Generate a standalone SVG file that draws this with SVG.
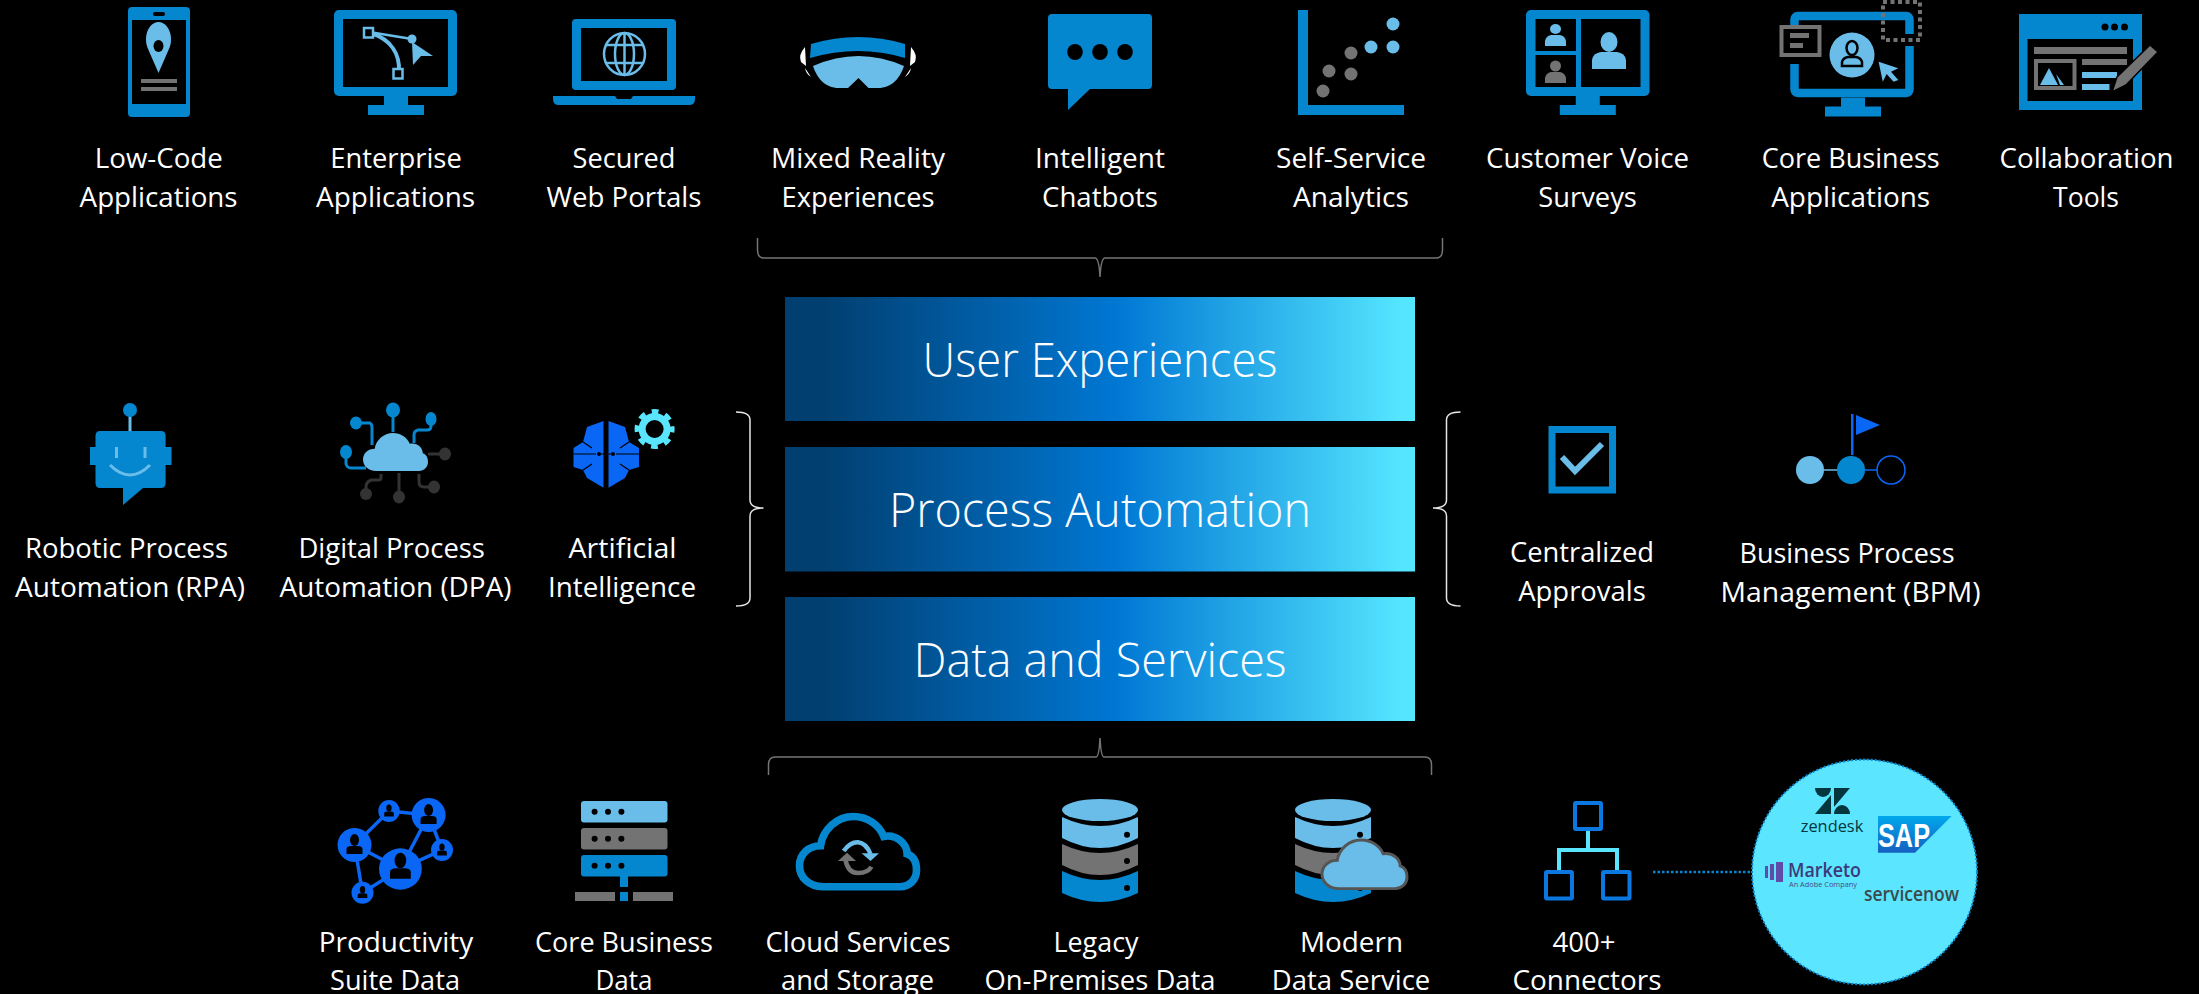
<svg xmlns="http://www.w3.org/2000/svg" width="2199" height="994" viewBox="0 0 2199 994">
<style>
text{font-family:"Open Sans","Noto Sans","Liberation Sans",sans-serif;fill:#fff;text-anchor:middle}
.l{font-size:27px}
.h{font-size:47px;font-weight:300}
.b{fill:#0587cf}.c{fill:#6abce9}.g{fill:#737373}.k{fill:#000}.v{fill:#0a66f5}.y{fill:#5ae5ff}
.brace{fill:none;stroke:#747474;stroke-width:1.5}
.brw{fill:none;stroke:#e6e6e6;stroke-width:1.5}
.blk{fill:url(#grad)}
</style>
<defs>
<linearGradient id="grad" x1="0" x2="1" y1="0" y2="0"><stop offset="0" stop-color="#013f70"/><stop offset=".06" stop-color="#013f70"/><stop offset=".53" stop-color="#0078d4"/><stop offset=".98" stop-color="#55e6ff"/></linearGradient>
<linearGradient id="sap" x1="0" x2="0" y1="0" y2="1"><stop offset="0" stop-color="#00a8ec"/><stop offset="1" stop-color="#1560c0"/></linearGradient>
<path id="cloud" d="M20 60C8 60 0 52 0 42C0 32 8 25 18 25C20 11 32 0 46 0C58 0 68 7 72 17C84 15 92 24 92 32C98 34 100 40 100 46C100 54 94 60 86 60Z"/>
<g id="db">
<ellipse cx="0" cy="810" rx="38" ry="11" class="c"/>
<path class="c" d="M-38 817Q0 835 38 817V838Q0 858-38 838Z"/>
<path class="g" d="M-38 844Q0 862 38 844V865Q0 885-38 865Z"/>
<path class="b" d="M-38 871Q0 889 38 871V893Q0 911-38 893Z"/>
<circle cx="27" cy="834.700" r="3" class="k"/><circle cx="27" cy="861" r="3" class="k"/><circle cx="27" cy="888" r="3" class="k"/>
</g>
<g id="netp"><ellipse cx="0" cy="-5" rx="4.500" ry="6" class="k"/><path d="M-8 9V4Q-8 1-3 1H3Q8 1 8 4V9Z" class="k"/></g>
<g id="stand"><rect x="-12" y="0" width="24" height="10"/><rect x="-28" y="9" width="56" height="10"/></g>
</defs>
<rect width="2199" height="994" fill="#000"/>

<g id="connectors">
<path class="brace" d="M757.500 238V250Q757.500 258 764 258H1095Q1099 258 1100 277Q1101 258 1105 258H1436Q1442.500 258 1442.500 250V238"/>
<path class="brace" d="M768.500 775V765Q768.500 757 775 757H1096Q1099 757 1100 738Q1101 757 1104 757H1425Q1431.500 757 1431.500 765V775"/>
<path class="brw" d="M736 412Q750 412 750 420V500Q750 508 763.500 508Q750 508 750 516V598Q750 606 736 606"/>
<path class="brw" d="M1460.500 412Q1446.500 412 1446.500 420V500Q1446.500 508 1433 508Q1446.500 508 1446.500 516V598Q1446.500 606 1460.500 606"/>
<path d="M1653 872H1752" fill="none" stroke="#0587cf" stroke-width="2.500" stroke-dasharray="2.500 2"/>
</g>

<g id="block-user"><rect class="blk" x="785" y="297" width="630" height="124"/><text class="h" x="1100" y="377.300" textLength="355" lengthAdjust="spacingAndGlyphs">User Experiences</text></g>
<g id="block-process"><rect class="blk" x="785" y="447" width="630" height="124.500"/><text class="h" x="1100" y="527.300" textLength="422" lengthAdjust="spacingAndGlyphs">Process Automation</text></g>
<g id="block-data"><rect class="blk" x="785" y="597" width="630" height="124"/><text class="h" x="1100" y="677" textLength="373" lengthAdjust="spacingAndGlyphs">Data and Services</text></g>

<g id="low-code">
<rect class="b" x="128" y="7" width="62" height="110" rx="4"/>
<rect class="k" x="132" y="20" width="54" height="84"/>
<rect class="k" x="153" y="12" width="12" height="4" rx="2"/>
<path class="c" d="M158.500 73L148.500 50A12.500 17.500 0 1 1 168.500 50Z"/>
<ellipse class="k" cx="158.500" cy="46" rx="5" ry="6"/>
<rect class="g" x="141" y="79" width="36" height="4"/><rect class="g" x="141" y="87" width="36" height="4"/>
<text class="l" x="158.800" y="168" textLength="128" lengthAdjust="spacingAndGlyphs">Low-Code</text>
<text class="l" x="158.600" y="206.500" textLength="158" lengthAdjust="spacingAndGlyphs">Applications</text>
</g>

<g id="enterprise">
<rect class="b" x="334" y="10" width="123" height="86" rx="5"/>
<rect class="k" x="343" y="19" width="105" height="68"/>
<use href="#stand" x="396" y="96" class="b"/>
<path d="M369 32L412 39" stroke="#6abce9" stroke-width="2.500" fill="none"/>
<path d="M371 33C392 40 400 55 399 72" stroke="#6abce9" stroke-width="4" fill="none"/>
<rect x="364" y="28" width="9" height="9.500" fill="#000" stroke="#6abce9" stroke-width="2.500"/>
<rect x="393.500" y="69" width="9" height="9.500" fill="#000" stroke="#6abce9" stroke-width="2.500"/>
<circle class="c" cx="412" cy="39" r="4.500"/>
<path class="c" d="M412 42L433 56H421L413 65Z"/>
<text class="l" x="396" y="168" textLength="131.500" lengthAdjust="spacingAndGlyphs">Enterprise</text>
<text class="l" x="395.600" y="206.500" textLength="159" lengthAdjust="spacingAndGlyphs">Applications</text>
</g>

<g id="web-portals">
<rect class="b" x="572" y="19" width="104" height="71" rx="4"/>
<rect class="k" x="581" y="28" width="86" height="53"/>
<path class="b" d="M553 96H615L617 99H631L633 96H695V99Q695 105 689 105H559Q553 105 553 99Z"/>
<g fill="none" stroke="#6abce9" stroke-width="2.500"><ellipse cx="624.500" cy="54" rx="20.500" ry="21"/><ellipse cx="624.500" cy="54" rx="9.500" ry="21"/><path d="M624.500 33V75M606 45H643M606 63H643"/></g>
<text class="l" x="624" y="168" textLength="103" lengthAdjust="spacingAndGlyphs">Secured</text>
<text class="l" x="624" y="206.500" textLength="155" lengthAdjust="spacingAndGlyphs">Web Portals</text>
</g>

<g id="mixed-reality">
<path class="b" d="M811 44Q858.500 30 905 44V58Q858.500 44 810 58Z"/>
<path class="c" d="M813 66Q858.500 46 904 66C900 78 892 88 878 88H868.500L858.500 78L848 88H839C825 88 817 78 813 66Z"/>
<path fill="#fff" d="M805 47Q798 55 801 62L806 66ZM805 68L811 77Q806 74 805 68ZM911 47Q918 55 915 62L910 66ZM911 68L905 77Q910 74 911 68Z"/>
<text class="l" x="858" y="168" textLength="174" lengthAdjust="spacingAndGlyphs">Mixed Reality</text>
<text class="l" x="858" y="206.500" textLength="153" lengthAdjust="spacingAndGlyphs">Experiences</text>
</g>

<g id="chatbots">
<path class="b" d="M1052 14H1148Q1152 14 1152 18V85Q1152 89 1148 89H1090L1068 110V89H1052Q1048 89 1048 85V18Q1048 14 1052 14Z"/>
<ellipse class="k" cx="1075" cy="52" rx="7.800" ry="8"/><ellipse class="k" cx="1100" cy="52" rx="7.800" ry="8"/><ellipse class="k" cx="1125" cy="52" rx="7.800" ry="8"/>
<text class="l" x="1100" y="168" textLength="130" lengthAdjust="spacingAndGlyphs">Intelligent</text>
<text class="l" x="1100" y="206.500" textLength="116" lengthAdjust="spacingAndGlyphs">Chatbots</text>
</g>

<g id="analytics">
<path class="b" d="M1298 10H1308V105H1404V115H1298Z"/>
<circle class="c" cx="1393" cy="24" r="6.500"/><circle class="c" cx="1371" cy="47" r="6.500"/><circle class="c" cx="1393" cy="47" r="6.500"/>
<circle class="g" cx="1351" cy="53" r="6.500"/><circle class="g" cx="1329" cy="71" r="6.500"/><circle class="g" cx="1351" cy="74" r="6.500"/><circle class="g" cx="1323" cy="91" r="6.500"/>
<text class="l" x="1351" y="168" textLength="150" lengthAdjust="spacingAndGlyphs">Self-Service</text>
<text class="l" x="1351" y="206.500" textLength="116" lengthAdjust="spacingAndGlyphs">Analytics</text>
</g>

<g id="customer-voice">
<rect class="b" x="1526" y="10" width="123.500" height="86" rx="5"/>
<rect class="k" x="1535.500" y="19" width="40.500" height="32"/><rect class="k" x="1535.500" y="55" width="40.500" height="32"/><rect class="k" x="1581" y="19" width="59.500" height="68"/>
<use href="#stand" x="1587.800" y="96" class="b"/>
<ellipse class="c" cx="1555.500" cy="29" rx="5.500" ry="5"/><path class="c" d="M1545 46V41Q1546 36 1551 35H1560Q1565 36 1566 41V46Z"/>
<ellipse class="g" cx="1555.500" cy="66" rx="5.500" ry="5.500"/><path class="g" d="M1545 83V78Q1546 73 1551 72H1560Q1565 73 1566 78V83Z"/>
<ellipse class="c" cx="1609" cy="42" rx="8.500" ry="10"/><path class="c" d="M1592 69V60Q1593 53 1601 52H1617Q1625 53 1626 60V69Z"/>
<text class="l" x="1587.600" y="168" textLength="203" lengthAdjust="spacingAndGlyphs">Customer Voice</text>
<text class="l" x="1587.600" y="206.500" textLength="98.500" lengthAdjust="spacingAndGlyphs">Surveys</text>
</g>

<g id="core-apps">
<path fill="none" stroke="#0587cf" stroke-width="8.500" d="M1794.500 25V20Q1794.500 16 1798 16H1906Q1909.500 16 1909.500 20V34M1909.500 46V89Q1909.500 93 1906 93H1798Q1794.500 93 1794.500 89V64"/>
<use href="#stand" x="1853" y="97.500" class="b"/>
<rect x="1883" y="2" width="37" height="38" fill="none" stroke="#737373" stroke-width="4" stroke-dasharray="4 3.500"/>
<rect x="1781.500" y="27" width="38" height="28" fill="#000" stroke="#737373" stroke-width="4"/>
<rect class="g" x="1790" y="33" width="19" height="5"/><rect class="g" x="1790" y="43" width="13" height="5"/>
<circle class="c" cx="1852" cy="55" r="22.500"/>
<ellipse cx="1852" cy="48" rx="5.500" ry="7" fill="none" stroke="#000" stroke-width="2.500"/>
<path d="M1842 66V62Q1843 58 1848 57H1856Q1861 58 1862 62V66Z" fill="none" stroke="#000" stroke-width="2.500"/>
<path class="c" d="M1878.600 61.700L1898.300 68.300L1891 71.700L1898.300 80L1893.600 81.700L1886.600 74L1882.800 81.700Z"/>
<text class="l" x="1850.700" y="168" textLength="178" lengthAdjust="spacingAndGlyphs">Core Business</text>
<text class="l" x="1850.700" y="206.500" textLength="159" lengthAdjust="spacingAndGlyphs">Applications</text>
</g>

<g id="collaboration">
<rect class="b" x="2019" y="14" width="123" height="96"/>
<rect class="k" x="2027.500" y="39" width="105.500" height="62"/>
<circle class="k" cx="2105" cy="27" r="3.500"/><circle class="k" cx="2114.500" cy="27" r="3.500"/><circle class="k" cx="2124.500" cy="27" r="3.500"/>
<rect class="g" x="2034" y="47" width="93" height="7"/>
<rect x="2036" y="61" width="38.500" height="27" fill="#000" stroke="#737373" stroke-width="4"/>
<path class="c" d="M2040 85L2049 68L2058 85Z"/><path class="c" d="M2056 74L2064 85H2060Z"/>
<rect class="g" x="2082" y="59" width="45" height="6"/><rect class="c" x="2082" y="72" width="35" height="6"/><rect class="c" x="2082" y="84" width="27.500" height="6"/>
<path class="g" stroke="#000" stroke-width="1.500" d="M2112 92L2117 77L2150 45L2158 52L2126 85Z"/>
<text class="l" x="2086.600" y="168" textLength="174" lengthAdjust="spacingAndGlyphs">Collaboration</text>
<text class="l" x="2086" y="206.500" textLength="66" lengthAdjust="spacingAndGlyphs">Tools</text>
</g>

<g id="rpa">
<rect class="c" x="128.500" y="415" width="3" height="17"/>
<ellipse class="b" cx="130" cy="410" rx="7" ry="7"/>
<rect class="b" x="90" y="447" width="81.500" height="18"/>
<path class="b" d="M100 431H161Q165.600 431 165.600 436V483Q165.600 488 161 488H143L123 505V488H100Q95.500 488 95.500 483V436Q95.500 431 100 431Z"/>
<rect class="c" x="115" y="447" width="3" height="11"/><rect class="c" x="143.500" y="447" width="3" height="11"/>
<path d="M110 465Q130 485 150 465" fill="none" stroke="#6abce9" stroke-width="3"/>
<text class="l" x="126.500" y="558" textLength="203" lengthAdjust="spacingAndGlyphs">Robotic Process</text>
<text class="l" x="130" y="596.500" textLength="230" lengthAdjust="spacingAndGlyphs">Automation (RPA)</text>
</g>

<g id="dpa">
<g fill="none" stroke-width="3">
<path stroke="#0587cf" d="M393 410V432M356 423H370Q372 424 372 428V445M431 419V426Q431 430 427 430H418Q414 431 414 435V443M346 452V464Q347 468 351 468H366"/>
<path stroke="#333" d="M428 454H445M399 473V497M381 474V478Q381 480 378 480H371Q366 482 366 487V494M419 474V482Q419 487 424 487H434"/>
</g>
<ellipse class="b" cx="393" cy="410" rx="7" ry="7.500"/><ellipse class="b" cx="356" cy="423" rx="6" ry="6.500"/><ellipse class="b" cx="431" cy="419" rx="5.500" ry="7"/><ellipse class="b" cx="346" cy="452" rx="6" ry="7"/>
<g fill="#333"><ellipse cx="445" cy="454" rx="6" ry="6.500"/><ellipse cx="399" cy="497" rx="6" ry="6.500"/><ellipse cx="366" cy="494" rx="6" ry="6"/><ellipse cx="434" cy="487" rx="6" ry="6.500"/></g>
<use href="#cloud" class="c" transform="translate(363 433) scale(.65 .633)"/>
<text class="l" x="391.700" y="557.500" textLength="186.500" lengthAdjust="spacingAndGlyphs">Digital Process</text>
<text class="l" x="395.500" y="596.500" textLength="232" lengthAdjust="spacingAndGlyphs">Automation (DPA)</text>
</g>

<g id="ai">
<path class="v" d="M603.500 421L587 427L583 442L573.500 448V467L583 470L587 478L603.500 487.700Z"/>
<path class="v" d="M608.500 421L625 427L629 442L639 448V467L629 470L625 478L608.500 487.700Z"/>
<g fill="none" stroke="#000" stroke-width="1.200"><path d="M573.500 454H596M616 454H639M601 454H611M583 442L592 448M629 442L620 448M583 470L592 464M629 470L620 464"/></g>
<circle class="k" cx="599" cy="454" r="2"/><circle class="k" cx="613" cy="454" r="2"/>
<circle cx="654.600" cy="429" r="12.500" fill="none" stroke="#5ae5ff" stroke-width="7"/>
<circle cx="654.600" cy="429" r="17.500" fill="none" stroke="#5ae5ff" stroke-width="5" stroke-dasharray="6.750 7" stroke-dashoffset="3.400"/>
<text class="l" x="622.500" y="558" textLength="108" lengthAdjust="spacingAndGlyphs">Artificial</text>
<text class="l" x="622" y="596.500" textLength="148" lengthAdjust="spacingAndGlyphs">Intelligence</text>
</g>

<g id="approvals">
<rect x="1552" y="429.500" width="60.500" height="60.500" fill="none" stroke="#0587cf" stroke-width="7"/>
<path d="M1562 457L1575 471L1602 444" fill="none" stroke="#6abce9" stroke-width="6"/>
<text class="l" x="1582" y="561.500" textLength="144" lengthAdjust="spacingAndGlyphs">Centralized</text>
<text class="l" x="1582" y="600.500" textLength="127.500" lengthAdjust="spacingAndGlyphs">Approvals</text>
</g>

<g id="bpm">
<path d="M1824 470H1837" stroke="#6abce9" stroke-width="1.500"/><path d="M1865 470H1877" stroke="#0a66f5" stroke-width="1.500"/>
<circle class="c" cx="1810" cy="470" r="14"/><circle class="b" cx="1851" cy="470" r="14"/>
<circle cx="1891" cy="470" r="14" fill="none" stroke="#0a66f5" stroke-width="1.500"/>
<rect class="v" x="1851" y="414" width="2.500" height="41"/>
<path class="v" d="M1856 415L1880 425L1856 435Z"/>
<text class="l" x="1847" y="562.500" textLength="215" lengthAdjust="spacingAndGlyphs">Business Process</text>
<text class="l" x="1850.600" y="601.500" textLength="260" lengthAdjust="spacingAndGlyphs">Management (BPM)</text>
</g>

<g id="productivity">
<path fill="none" stroke="#0a66f5" stroke-width="3.500" d="M354.500 845L389 811L428.600 815L400.400 869L354.500 845L362.500 892.700L400.400 869L442 850L428.600 815"/>
<ellipse class="v" cx="400.400" cy="869" rx="21.400" ry="20.700"/><circle class="v" cx="428.600" cy="815" r="17"/><circle class="v" cx="354.500" cy="845" r="17"/>
<ellipse class="v" cx="389" cy="811" rx="10.700" ry="11"/><circle class="v" cx="442" cy="850" r="11"/><circle class="v" cx="362.500" cy="892.700" r="11"/>
<use href="#netp" transform="translate(400.400 867) scale(1.300)"/><use href="#netp" transform="translate(428.600 815)"/><use href="#netp" transform="translate(354.500 845)"/>
<use href="#netp" transform="translate(389 811) scale(.6)"/><use href="#netp" transform="translate(442 850) scale(.6)"/><use href="#netp" transform="translate(362.500 892.700) scale(.6)"/>
<text class="l" x="396" y="951.500" textLength="154.500" lengthAdjust="spacingAndGlyphs">Productivity</text>
<text class="l" x="395" y="990" textLength="130" lengthAdjust="spacingAndGlyphs">Suite Data</text>
</g>

<g id="core-data">
<rect class="c" x="581" y="801" width="86.500" height="21.500" rx="3"/><rect class="g" x="581" y="828" width="86.500" height="21.500" rx="3"/><rect class="b" x="581" y="855" width="86.500" height="21.500" rx="3"/>
<g class="k"><circle cx="594.600" cy="811.700" r="3"/><circle cx="608" cy="811.700" r="3"/><circle cx="621.400" cy="811.700" r="3"/><circle cx="594.600" cy="838.700" r="3"/><circle cx="608" cy="838.700" r="3"/><circle cx="621.400" cy="838.700" r="3"/><circle cx="594.600" cy="865.700" r="3"/><circle cx="608" cy="865.700" r="3"/><circle cx="621.400" cy="865.700" r="3"/></g>
<rect class="b" x="620" y="876" width="8" height="11"/><rect class="b" x="620" y="892" width="8" height="9"/>
<rect class="g" x="575" y="892" width="40" height="9"/><rect class="g" x="633" y="892" width="40" height="9"/>
<text class="l" x="624" y="951.500" textLength="178" lengthAdjust="spacingAndGlyphs">Core Business</text>
<text class="l" x="624" y="990" textLength="57" lengthAdjust="spacingAndGlyphs">Data</text>
</g>

<g id="cloud-storage">
<use href="#cloud" fill="none" stroke="#0587cf" stroke-width="6.500" transform="translate(799.500 816.500) scale(1.170 1.170)"/>
<path d="M843.700 851Q850 842 858 842.300Q866 843 870.500 854" fill="none" stroke="#6abce9" stroke-width="4.500"/>
<path class="c" d="M861.600 853.300H879L870.500 861Z"/>
<path d="M845.500 860Q848 873 858 873Q868 873 871.400 866.700" fill="none" stroke="#737373" stroke-width="4.500"/>
<path class="g" d="M838 861H856L847 852.700Z"/>
<text class="l" x="858" y="951.500" textLength="185" lengthAdjust="spacingAndGlyphs">Cloud Services</text>
<text class="l" x="857.500" y="990" textLength="153" lengthAdjust="spacingAndGlyphs">and Storage</text>
</g>

<g id="legacy">
<use href="#db" x="1100"/>
<text class="l" x="1096" y="951.500" textLength="85" lengthAdjust="spacingAndGlyphs">Legacy</text>
<text class="l" x="1100" y="990" textLength="231" lengthAdjust="spacingAndGlyphs">On-Premises Data</text>
</g>

<g id="modern">
<use href="#db" x="1333"/>
<use href="#cloud" class="c" stroke="#555" stroke-width="3.500" transform="translate(1322 840) scale(.85 .81)"/>
<text class="l" x="1351.500" y="951.500" textLength="103" lengthAdjust="spacingAndGlyphs">Modern</text>
<text class="l" x="1351" y="990" textLength="158.500" lengthAdjust="spacingAndGlyphs">Data Service</text>
</g>

<g id="connectors-icon">
<path d="M1588 831V850M1559 870V850H1617V870" fill="none" stroke="#5ae5ff" stroke-width="4"/>
<g fill="none" stroke="#0a78e0" stroke-width="4"><rect x="1575" y="803" width="26" height="26" rx="1"/><rect x="1546" y="872" width="26" height="26.500" rx="1"/><rect x="1603" y="872" width="26.500" height="26.500" rx="1"/></g>
<text class="l" x="1584" y="952" textLength="63" lengthAdjust="spacingAndGlyphs">400+</text>
<text class="l" x="1587" y="990" textLength="149" lengthAdjust="spacingAndGlyphs">Connectors</text>
</g>

<g id="partners">
<circle cx="1864.500" cy="872" r="112.500" fill="#5ce5ff" stroke="#0587cf" stroke-width="2" stroke-dasharray="2 2"/>
<g fill="#03363d">
<path d="M1815 788H1831A8 9 0 0 1 1815 788Z"/><path d="M1831 795V814H1815Z"/><path d="M1834 788H1850L1834 807Z"/><path d="M1834 814A8 9 0 0 1 1850 814Z"/>
</g>
<text x="1832" y="832" font-size="17" textLength="62.500" lengthAdjust="spacingAndGlyphs" style="fill:#03363d">zendesk</text>
<path fill="url(#sap)" d="M1878 816H1951.700L1915 852.700H1878Z"/>
<text x="1904" y="847" font-size="34" font-weight="700" textLength="52" lengthAdjust="spacingAndGlyphs" style="fill:#fff;font-family:'Liberation Sans',sans-serif">SAP</text>
<g fill="#5f4ba8"><rect x="1765" y="866" width="3" height="12"/><rect x="1770" y="864" width="4" height="16"/><rect x="1776" y="862" width="7" height="20"/></g>
<text x="1824.500" y="877" font-size="20" font-weight="600" textLength="73" lengthAdjust="spacingAndGlyphs" style="fill:#3c3a78">Marketo</text>
<text x="1823" y="887" font-size="7" textLength="68" lengthAdjust="spacingAndGlyphs" style="fill:#4a4a7a">An Adobe Company</text>
<text x="1911.500" y="900.700" font-size="19" font-weight="600" textLength="95" lengthAdjust="spacingAndGlyphs" style="fill:#3b4a4c">servicenow</text>
</g>
</svg>
